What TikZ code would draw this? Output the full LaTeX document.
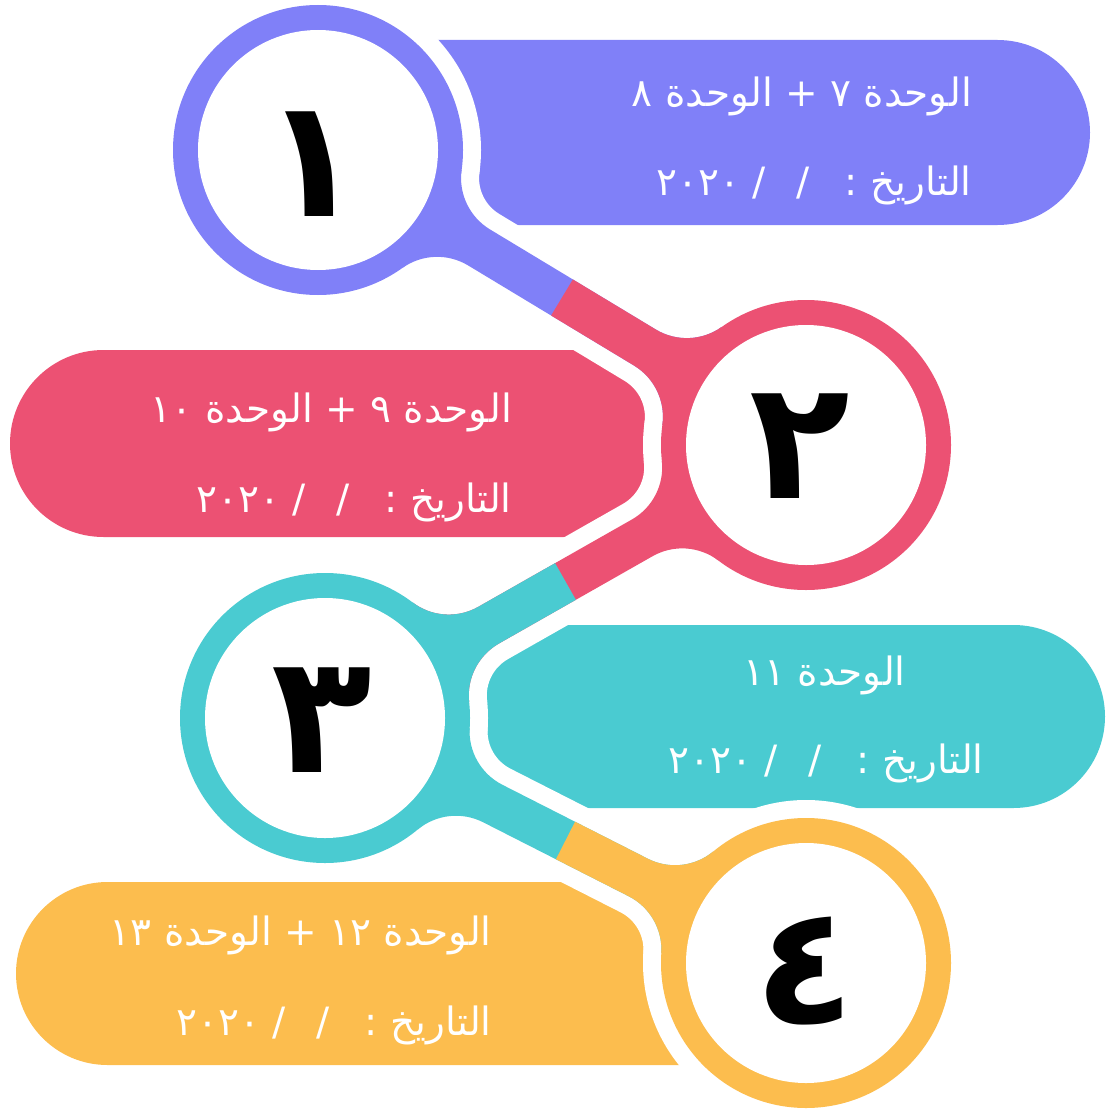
\documentclass[tikz,border=0pt]{standalone}
\usepackage{fontspec}
\newfontfamily\arabicfont[Script=Arabic]{DejaVu Sans}
\TeXXeTstate=1

\definecolor{unitblue}{RGB}{128,128,248}
\definecolor{unitpink}{RGB}{236,81,115}
\definecolor{unitteal}{RGB}{74,203,209}
\definecolor{unitgold}{RGB}{252,189,78}

% neck between two rings, #1 = distance of the centres
\newcommand{\neckshape}[1]{(133.2,57.4) arc[start angle=203.3, end angle=270, radius=60] -- (#1-188.3,21) arc[start angle=270, end angle=336.7, radius=60] -- (#1-133.2,-57.4) arc[start angle=23.3, end angle=90, radius=60] -- (188.3,-21) arc[start angle=90, end angle=156.7, radius=60] -- cycle}

\begin{document}
\begin{tikzpicture}[x=1pt,y=-1pt,
    halo/.style={white, line width=36pt, line join=round},
    unit/.style={text=white, anchor=base east, inner sep=0pt, font=\arabicfont\fontsize{39}{46}\selectfont},
    num/.style={text=black, inner sep=0pt, font=\arabicfont\bfseries\fontsize{165}{165}\selectfont}]

    \useasboundingbox (0,0) rectangle (1105,1113);

    \coordinate (c1) at (318,150);
    \coordinate (c2) at (806,445);
    \coordinate (c3) at (325,718);
    \coordinate (c4) at (806,963);

    % pills
    \fill [unitblue] (330,40) -- (997.5,40) arc[start angle=-90, end angle=90, radius=92.5] -- (330,225) -- cycle;
    \fill [unitpink] (700,350) -- (103.5,350) arc[start angle=-90, end angle=-270, radius=93.5] -- (700,537) -- cycle;
    \fill [unitteal] (400,625) -- (1013.5,625) arc[start angle=-90, end angle=90, radius=91.5] -- (400,808) -- cycle;
    \fill [unitgold] (700,882) -- (107.5,882) arc[start angle=-90, end angle=-270, radius=91.5] -- (700,1065) -- cycle;

    % white gaps round the rings
    \fill [white] (c1) circle (163);
    \fill [white] (c2) circle (163);
    \fill [white] (c3) circle (163);
    \fill [white] (c4) circle (163);
    \draw [halo, shift={(c1)}, rotate=-31.15] \neckshape{570.2};
    \draw [halo, shift={(c2)}, rotate=-150.43] \neckshape{553.1};
    \draw [halo, shift={(c3)}, rotate=-26.99] \neckshape{539.8};

    % necks, two colours each
    \fill [unitblue, shift={(c1)}, rotate=-31.15] \neckshape{570.2};
    \begin{scope}[shift={(c1)}, rotate=-31.15]
        \clip (285.1,-300) rectangle (900,300);
        \fill [unitpink] \neckshape{570.2};
    \end{scope}
    \fill [unitpink, shift={(c2)}, rotate=-150.43] \neckshape{553.1};
    \begin{scope}[shift={(c2)}, rotate=-150.43]
        \clip (276.55,-300) rectangle (900,300);
        \fill [unitteal] \neckshape{553.1};
    \end{scope}
    \fill [unitteal, shift={(c3)}, rotate=-26.99] \neckshape{539.8};
    \begin{scope}[shift={(c3)}, rotate=-26.99]
        \clip (269.9,-300) rectangle (900,300);
        \fill [unitgold] \neckshape{539.8};
    \end{scope}

    % rings
    \fill [unitblue] (c1) circle (145);
    \fill [unitpink] (c2) circle (145);
    \fill [unitteal] (c3) circle (145);
    \fill [unitgold] (c4) circle (145);
    \fill [white] (c1) circle (120);
    \fill [white] (c2) circle (120);
    \fill [white] (c3) circle (120);
    \fill [white] (c4) circle (120);

    \node [num] (n1) at (313,164) {١};
    \node [num] (n2) at (800,446) {٢};
    \node [num] (n3) at (322,720) {٣};
    \node [num] (n4) at (805,971) {٤};

    % texts
    \node [unit] (u1) at (972,107) {\beginR الوحدة ٧ + الوحدة ٨\endR};
    \node [unit] (d1) at (972,195) {\beginR التاريخ :\hspace{0.9em}/\hspace{0.8em}/ ٢٠٢٠\endR};
    \node [unit] (u2) at (512,422) {\beginR الوحدة ٩ + الوحدة ١٠\endR};
    \node [unit] (d2) at (512,512) {\beginR التاريخ :\hspace{0.9em}/\hspace{0.8em}/ ٢٠٢٠\endR};
    \node [unit] (u3) at (906,685) {\beginR الوحدة ١١\endR};
    \node [unit] (d3) at (984,773) {\beginR التاريخ :\hspace{0.9em}/\hspace{0.8em}/ ٢٠٢٠\endR};
    \node [unit] (u4) at (492,945) {\beginR الوحدة ١٢ + الوحدة ١٣\endR};
    \node [unit] (d4) at (492,1035) {\beginR التاريخ :\hspace{0.9em}/\hspace{0.8em}/ ٢٠٢٠\endR};

\end{tikzpicture}
\end{document}
